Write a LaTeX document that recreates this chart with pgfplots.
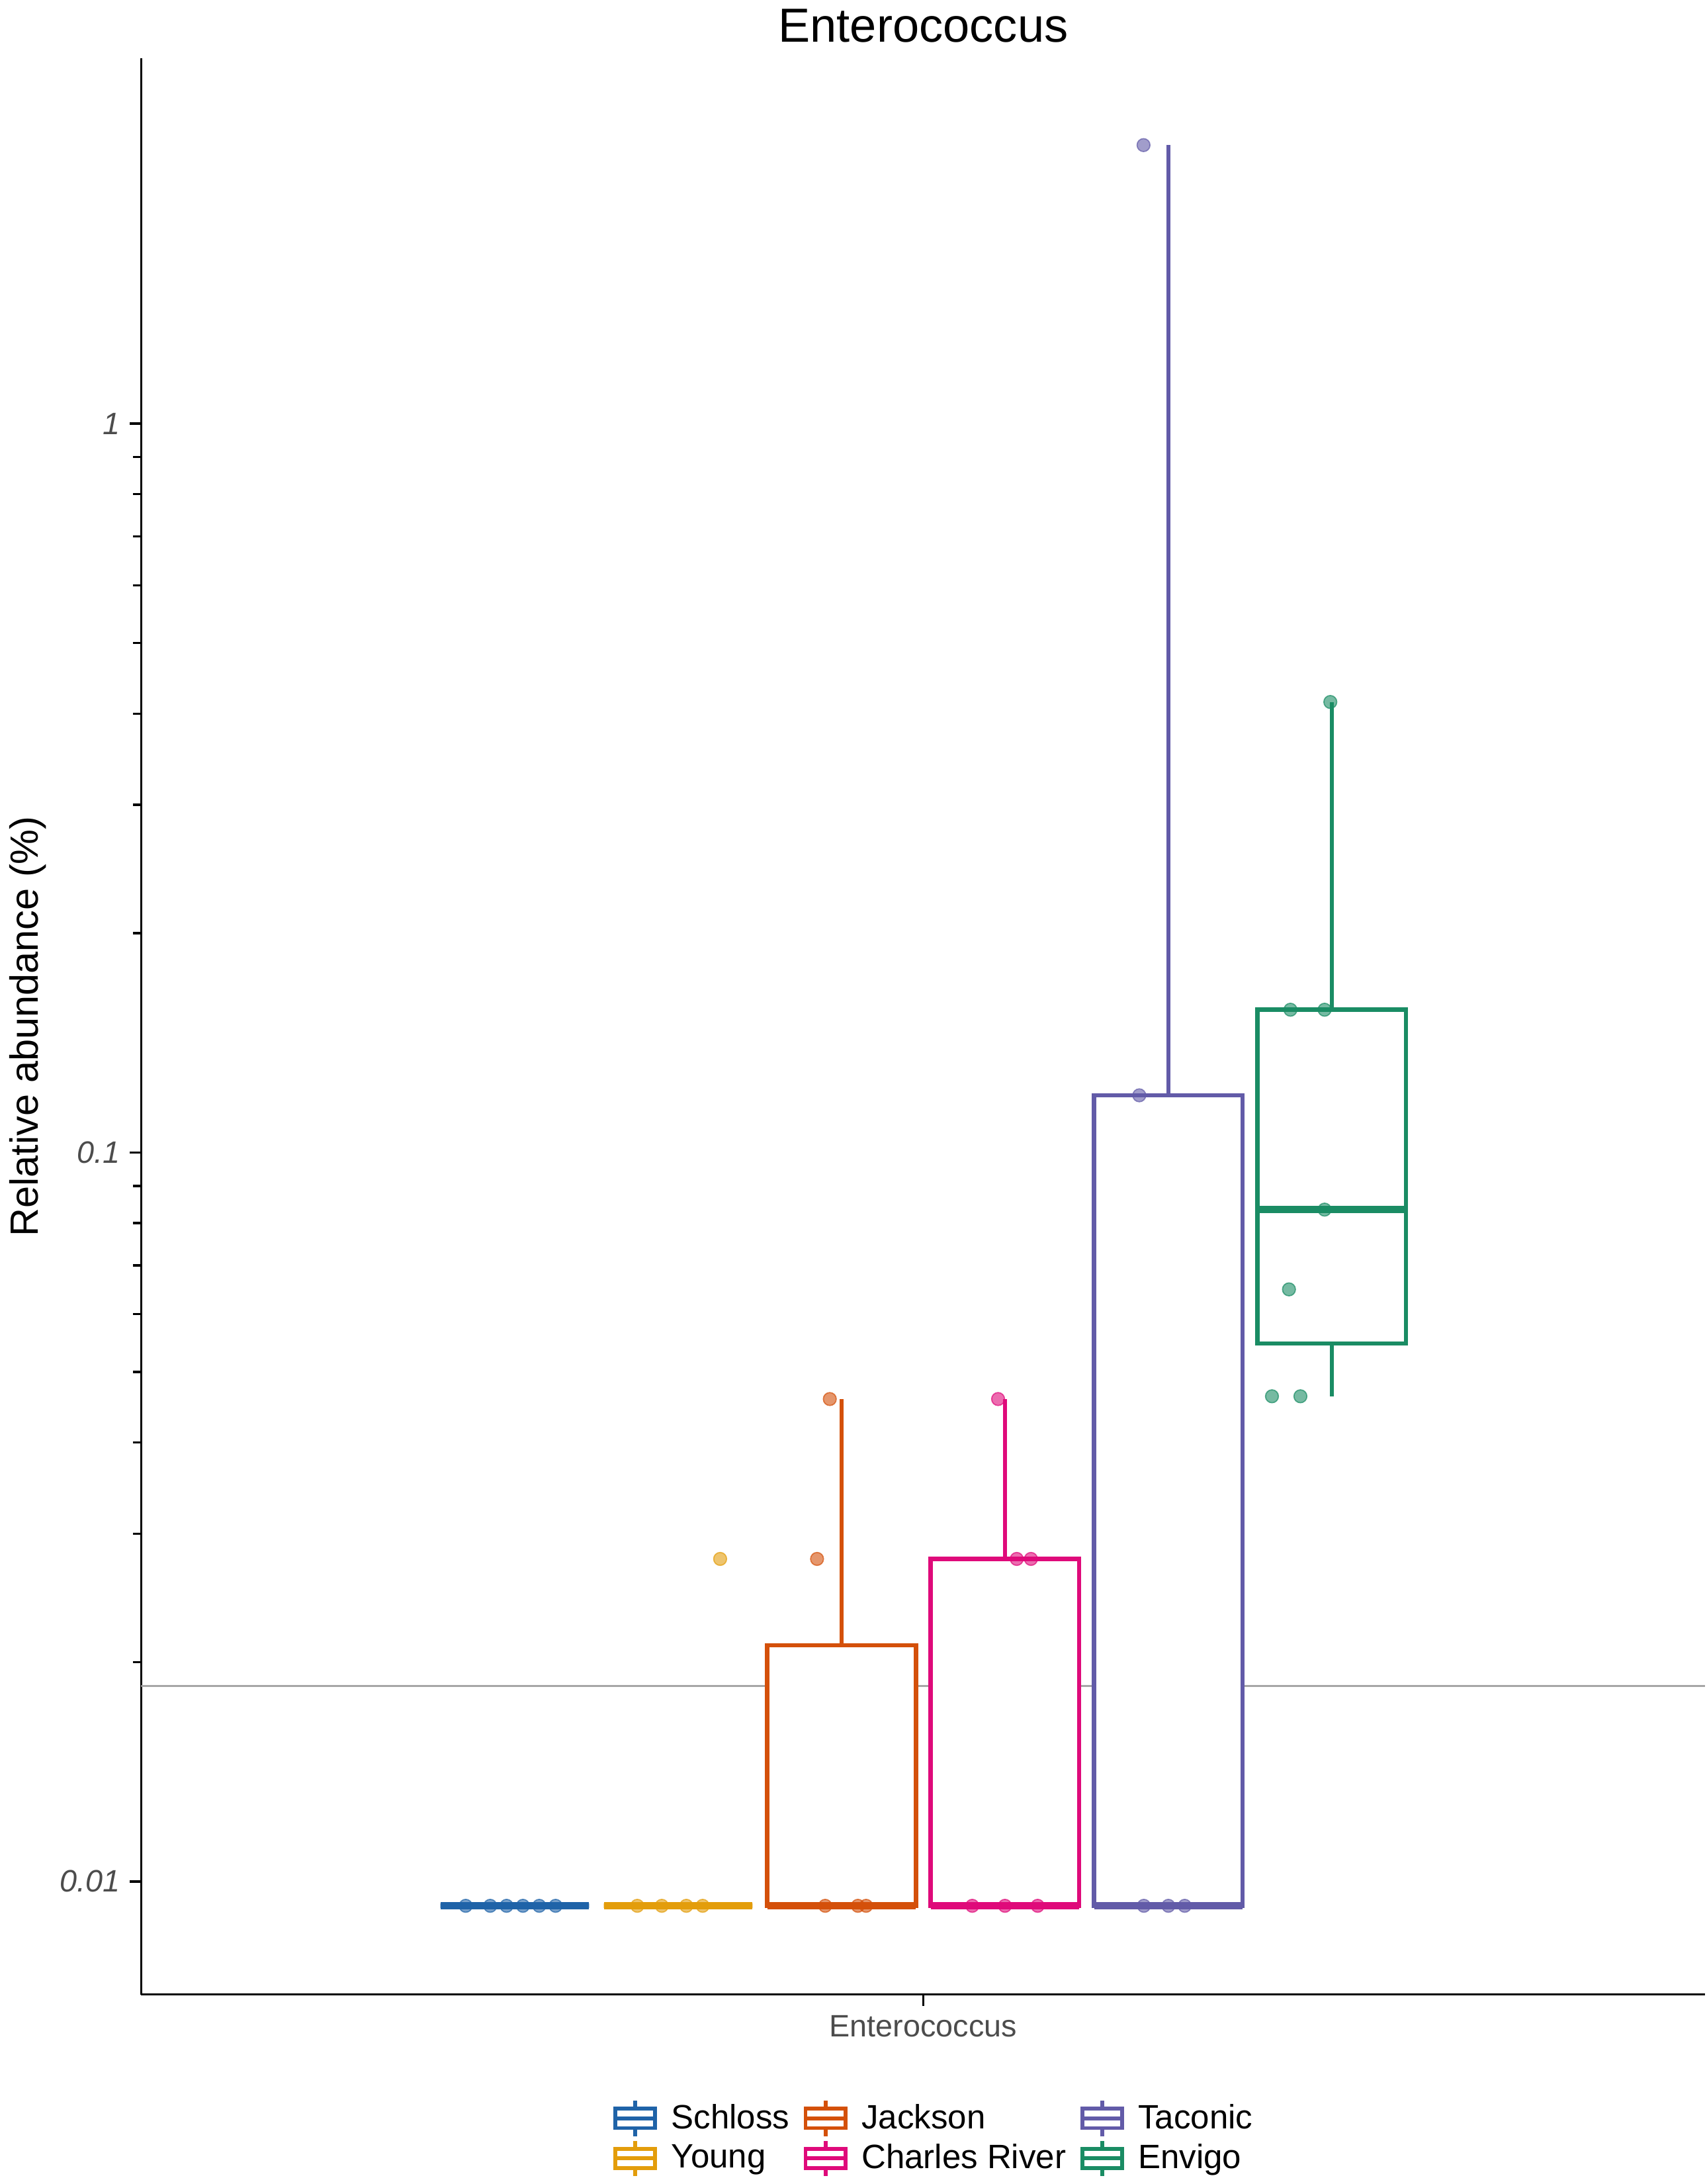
\documentclass[border=0pt]{standalone}
\usepackage{pgfplots}
\pgfplotsset{compat=1.18}
\usepackage{fontspec}
\setmainfont{Liberation Sans}
\definecolor{cS}{HTML}{1F63A8}
\definecolor{cY}{HTML}{E39D0B}
\definecolor{cJ}{HTML}{D4500A}
\definecolor{cC}{HTML}{DF0A7A}
\definecolor{cT}{HTML}{625BA8}
\definecolor{cE}{HTML}{1A8C64}
\newcommand{\legbox}[1]{\addlegendimage{legend image code/.code={
 \draw[#1,line width=1.4pt] (0.05cm,-0.12cm) rectangle (0.55cm,0.12cm);
 \draw[#1,line width=1.4pt] (0.05cm,0cm)--(0.55cm,0cm);
 \draw[#1,line width=1.4pt] (0.3cm,0.12cm)--(0.3cm,0.22cm);
 \draw[#1,line width=1.4pt] (0.3cm,-0.12cm)--(0.3cm,-0.22cm);}}}
% #1 colour, #2 left, #3 right, #4 centre, #5 lw, #6 q1, #7 med, #8 q3, #9 uw
\newcommand{\bx}[9]{%
 \addplot[#1, line width=1.5pt, forget plot] coordinates {(#4,#5)(#4,#6)};
 \addplot[#1, line width=1.5pt, forget plot] coordinates {(#4,#8)(#4,#9)};
 \addplot[#1, line width=1.5pt, forget plot, fill=white] coordinates {(#2,#6)(#3,#6)(#3,#8)(#2,#8)} -- cycle;
 \addplot[#1, line width=2.6pt, forget plot] coordinates {(#2,#7)(#3,#7)};
}
\begin{document}
\begin{tikzpicture}
\begin{axis}[
 scale only axis, width=556pt, height=688pt,
 ymode=log, xmin=-1.286, xmax=8.286, ymin=0.0070, ymax=3.17,
 axis lines=left, axis line style={-, line width=0.8pt},
 ytick={0.01,0.1,1}, yticklabels={\textit{0.01},\textit{0.1},\textit{1}},
 minor ytick={}, minor tick num=0,
 xtick={3.5}, xticklabels={Enterococcus},
 tick style={black, line width=0.8pt}, tick align=outside, major tick length=4pt,
 ticklabel style={font=\fontsize{11}{13}\selectfont, text=black!70},
 ylabel={Relative abundance (\%)}, ylabel style={font=\fontsize{14}{16}\selectfont, yshift=-2pt},
 title={Enterococcus}, title style={font=\fontsize{17}{20}\selectfont, yshift=-4pt},
 legend columns=3,
 legend style={draw=none, at={(0.508,-0.0744)}, anchor=center, font=\fontsize{12}{14}\selectfont,
   /tikz/every even column/.style={column sep=3pt}, /tikz/every odd column/.style={column sep=3pt}, row sep=0pt},
 legend cell align=left,
]
\addplot[black!35, line width=0.7pt, forget plot] coordinates {(-1.286,0.01854)(8.286,0.01854)};
\bx{cS}{0.545}{1.455}{1}{0.00926}{0.00926}{0.00926}{0.00926}{0.00926}
\bx{cY}{1.545}{2.455}{2}{0.00926}{0.00926}{0.00926}{0.00926}{0.00926}
\bx{cJ}{2.545}{3.455}{3}{0.00926}{0.00926}{0.00926}{0.0211}{0.0459}
\bx{cC}{3.545}{4.455}{4}{0.00926}{0.00926}{0.00926}{0.0277}{0.0459}
\bx{cT}{4.545}{5.455}{5}{0.00926}{0.00926}{0.00926}{0.1198}{2.41}
\bx{cE}{5.545}{6.455}{6}{0.0463}{0.0547}{0.0835}{0.157}{0.415}
\addplot[only marks, mark=*, mark size=2.3pt, cS, fill opacity=0.6, draw opacity=0.7, forget plot] coordinates {(0.7,0.00926)(0.85,0.00926)(1.05,0.00926)(1.15,0.00926)(1.25,0.00926)(0.95,0.00926)};
\addplot[only marks, mark=*, mark size=2.3pt, cY, fill opacity=0.6, draw opacity=0.7, forget plot] coordinates {(1.75,0.00926)(1.9,0.00926)(2.05,0.00926)(2.15,0.00926)(2.257,0.0277)};
\addplot[only marks, mark=*, mark size=2.3pt, cJ, fill opacity=0.6, draw opacity=0.7, forget plot] coordinates {(2.928,0.0459)(2.850,0.0277)(2.9,0.00926)(3.1,0.00926)(3.15,0.00926)};
\addplot[only marks, mark=*, mark size=2.3pt, cC, fill opacity=0.6, draw opacity=0.7, forget plot] coordinates {(3.958,0.0459)(4.072,0.0277)(4.159,0.0277)(3.8,0.00926)(4.0,0.00926)(4.2,0.00926)};
\addplot[only marks, mark=*, mark size=2.3pt, cT, fill opacity=0.6, draw opacity=0.7, forget plot] coordinates {(4.848,2.41)(4.822,0.1198)(4.85,0.00926)(5.0,0.00926)(5.1,0.00926)};
\addplot[only marks, mark=*, mark size=2.3pt, cE, fill opacity=0.6, draw opacity=0.7, forget plot] coordinates {(5.991,0.415)(5.747,0.157)(5.956,0.157)(5.956,0.0835)(5.738,0.0649)(5.634,0.0463)(5.808,0.0463)};
\legbox{cS}\addlegendentry{Schloss}
\legbox{cJ}\addlegendentry{Jackson}
\legbox{cT}\addlegendentry{Taconic}
\legbox{cY}\addlegendentry{Young}
\legbox{cC}\addlegendentry{Charles River}
\legbox{cE}\addlegendentry{Envigo}
\end{axis}
\end{tikzpicture}
\end{document}
